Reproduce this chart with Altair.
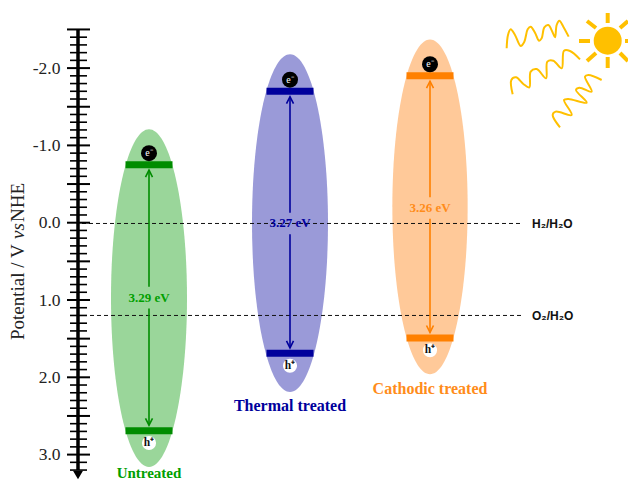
import altair as alt
import pandas as pd

# ---- values (potential in V vs NHE) ----
names = ["Untreated", "Thermal treated", "Cathodic treated"]
gaps = ["3.29 eV", "3.27 eV", "3.26 eV"]
cb = [-0.75, -1.70, -1.90]
vb = [2.69, 1.69, 1.49]
centers = [149, 290, 430]
tops = [-1.21, -2.18, -2.37]
bottoms = [3.16, 2.19, 1.96]
gap_y = [0.97, 0.01, -0.19]
label_y = [3.232, 2.37, 2.15]
label_size = [15, 16, 16]
fills = ["#9AD69A", "#9A9AD8", "#FFC999"]
darks = ["#008C00", "#00009C", "#FF8000"]
texts = ["#00A000", "#00009C", "#FF8C1A"]
major_ticks = [-2.5, -2.0, -1.5, -1.0, -0.5, 0.0, 0.5, 1.0, 1.5, 2.0, 2.5, 3.0]
minor_ticks = [round(-2.5 + i / 10, 1) for i in range(58) if i % 5]
labels = [-2.0, -1.0, 0.0, 1.0, 2.0, 3.0]
levels = [0.01, 1.2]
level_names = ["H₂/H₂O", "O₂/H₂O"]
wave_1 = [(50,145),(54,105),(62,88),(75,105),(92,138),(103,125),(113,88),(122,80),(135,98),(147,122),(155,115),(163,82),(175,75),(187,95),(195,112),(200,75),(208,62),(220,80),(236,110)]
wave_2 = [(68,283),(64,240),(78,232),(100,252),(118,262),(122,215),(140,207),(168,235),(172,185),(190,182),(215,205),(222,152),(240,153),(270,178)]
wave_3 = [(210,382),(188,345),(197,335),(245,345),(222,300),(235,297),(290,308),(258,270),(268,263),(305,275),(285,230),(295,225),(335,240)]
rays = [(607.7,13,607.7,23),(607.7,57,607.7,68),(579,41,590,41),(625,41,634,41),(587,21,596,28),(628,21,620,28),(587,61,596,53),(628,61,620,53)]


def pot(py):
    return (py - 222.7) / 77.3


xscale = alt.Scale(domain=[8, 628], range=[0, 620], nice=False, zero=False)
yscale = alt.Scale(domain=[pot(8), pot(480)], range=[0, 472], nice=False, zero=False)
yaxis = alt.Axis(values=labels, tickSize=0, domain=False, grid=False, offset=-70, labelPadding=18,
                 labelFont="Liberation Serif", labelFontSize=17.5, labelColor="#222222",
                 labelExpr="replace(format(datum.value,'.1f'),'−','-')", title=None)


def X(f="x"):
    return alt.X(f + ":Q", scale=xscale, axis=None)


def Y(f="y"):
    return alt.Y(f + ":Q", scale=yscale, axis=yaxis)


def hrules(df, **kw):
    return alt.Chart(df).mark_rule(**kw).encode(x=X(), x2="x2:Q", y=Y())


def segs(df, **kw):
    return alt.Chart(df).mark_rule(**kw).encode(x=X(), x2="x2:Q", y=Y(), y2="y2:Q")


def path(pts, **kw):
    df = pd.DataFrame(pts, columns=["x", "y", "g"]).reset_index().rename(columns={"index": "i"})
    return alt.Chart(df).mark_line(**kw).encode(x=X(), y=Y(), detail="g:N", order="i:Q")


def label(x, y, text, **kw):
    return alt.Chart(pd.DataFrame({"x": [x], "y": [y], "t": [text]})).mark_text(**kw).encode(x=X(), y=Y(), text="t:N")


ELLIPSE = ("M0,-1 C0.124,-1 0.225,-0.552 0.225,0 C0.225,0.552 0.124,1 0,1 "
           "C-0.124,1 -0.225,0.552 -0.225,0 C-0.225,-0.552 -0.124,-1 0,-1 Z")

layers = []

# ellipses
for i in range(3):
    h = (bottoms[i] - tops[i]) * 77.3
    df = pd.DataFrame({"x": [centers[i]], "y": [(tops[i] + bottoms[i]) / 2]})
    layers.append(alt.Chart(df).mark_point(shape=ELLIPSE, filled=True, fill=fills[i], opacity=1,
                                           strokeWidth=0, size=h * h).encode(x=X(), y=Y()))

# reference potentials
layers.append(hrules(pd.DataFrame({"x": [82, 90], "x2": [522, 522], "y": levels}),
                     color="#111111", strokeWidth=1, strokeDash=[4, 3]))

for i in range(3):
    c = centers[i]
    pts = []
    top = cb[i] + 0.07
    bot = vb[i] - 0.07
    pts += [(c, top, "a"), (c, gap_y[i] - 0.14, "a")]
    pts += [(c, gap_y[i] + 0.14, "b"), (c, bot, "b")]
    pts += [(c - 3.5, top + 0.09, "c"), (c, top, "c"), (c + 3.5, top + 0.09, "c")]
    pts += [(c - 3.5, bot - 0.09, "d"), (c, bot, "d"), (c + 3.5, bot - 0.09, "d")]
    layers.append(path(pts, color=darks[i], strokeWidth=1.6))
    layers.append(hrules(pd.DataFrame({"x": [c - 23.5] * 2, "x2": [c + 23.5] * 2, "y": [cb[i], vb[i]]}),
                         color=darks[i], strokeWidth=7))
    layers.append(alt.Chart(pd.DataFrame({"x": [c], "y": [cb[i] - 0.15]})).mark_point(
        shape="circle", filled=True, fill="#000000", opacity=1, strokeWidth=0, size=256).encode(x=X(), y=Y()))
    layers.append(alt.Chart(pd.DataFrame({"x": [c], "y": [vb[i] + 0.16]})).mark_point(
        shape="circle", filled=True, fill="#FFFFFF", opacity=1, strokeWidth=0, size=200).encode(x=X(), y=Y()))
    layers.append(label(c, cb[i] - 0.15, "e⁻", color="#FFFFFF", font="Liberation Serif", fontSize=10))
    layers.append(label(c, vb[i] + 0.16, "h⁺", color="#111111", font="Liberation Serif", fontSize=11.5, fontWeight="bold"))
    layers.append(label(c, gap_y[i], gaps[i], color=texts[i], font="Liberation Serif", fontSize=13, fontWeight="bold"))
    layers.append(label(c, label_y[i], names[i], color=texts[i], font="Liberation Serif", fontSize=label_size[i], fontWeight="bold"))

# potential axis
layers.append(hrules(pd.DataFrame({"x": [70] * len(minor_ticks), "x2": [87] * len(minor_ticks), "y": minor_ticks}),
                     color="#000000", strokeWidth=1.6))
layers.append(hrules(pd.DataFrame({"x": [67] * len(major_ticks), "x2": [90] * len(major_ticks), "y": major_ticks}),
                     color="#000000", strokeWidth=2))
layers.append(segs(pd.DataFrame({"x": [78], "x2": [78], "y": [-2.5], "y2": [3.2]}), color="#000000", strokeWidth=3.5))
layers.append(alt.Chart(pd.DataFrame({"x": [78], "y": [pot(475)]})).mark_point(
    shape="triangle-down", filled=True, fill="#000000", opacity=1, strokeWidth=0, size=100).encode(x=X(), y=Y()))

# axis title
for t, py, style in [("Potential / V", 340, "normal"), ("vs", 239, "italic"), ("NHE", 222, "normal")]:
    layers.append(label(18, pot(py), t, angle=270, align="left", baseline="middle", font="Liberation Serif",
                        fontSize=19, fontStyle=style, color="#222222"))

# level names
for v, n in zip(levels, level_names):
    layers.append(label(532, v + 0.01, n, align="left", font="Liberation Sans", fontSize=12, fontWeight="bold", color="#111111"))

# sun and rays
layers.append(alt.Chart(pd.DataFrame({"x": [607.7], "y": [pot(40.7)]})).mark_point(
    shape="circle", filled=True, fill="#FFC000", opacity=1, strokeWidth=0, size=784).encode(x=X(), y=Y()))
layers.append(segs(pd.DataFrame([(a, pot(b), c, pot(d)) for a, b, c, d in rays], columns=["x", "y", "x2", "y2"]),
                   color="#FFC000", strokeWidth=4))
for j, w in enumerate([wave_1, wave_2, wave_3]):
    layers.append(path([(490 + a / 3, pot(b / 3), f"w{j}") for a, b in w], color="#FFC000", strokeWidth=2,
                       interpolate="catmull-rom"))

chart = alt.layer(*layers).properties(
    width=620, height=472, autosize=alt.AutoSizeParams(type="none"), padding=0
).configure_view(stroke=None)

chart.save("out.html", embed_options={"renderer": "svg", "actions": False})
